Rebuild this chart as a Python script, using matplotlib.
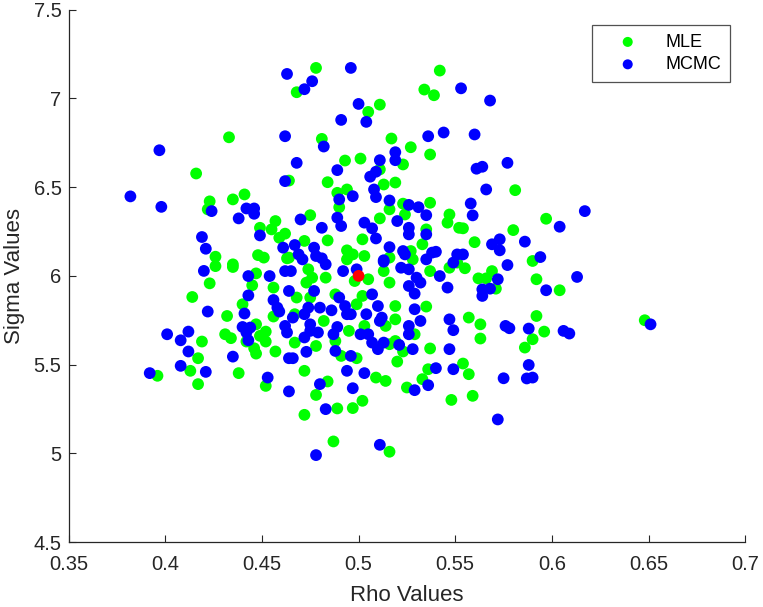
import numpy as np
import matplotlib
matplotlib.use("Agg")
import matplotlib.pyplot as plt

# (rho, sigma) estimates
mle_pts = np.array([
    (0.433, 6.781), (0.416, 6.577), (0.423, 6.420), (0.435, 6.431), (0.441, 6.459), (0.422, 6.375),
    (0.457, 6.309), (0.449, 6.271), (0.455, 6.262), (0.462, 6.238), (0.459, 6.215), (0.426, 6.108),
    (0.448, 6.117), (0.451, 6.103), (0.435, 6.065), (0.463, 6.099),
    (0.478, 7.172), (0.468, 7.035), (0.542, 7.157), (0.534, 7.050), (0.539, 7.018), (0.511, 6.965),
    (0.505, 6.924), (0.481, 6.772), (0.517, 6.774), (0.527, 6.725), (0.537, 6.684), (0.523, 6.628),
    (0.501, 6.661), (0.493, 6.650), (0.511, 6.600), (0.464, 6.537), (0.484, 6.528), (0.519, 6.526),
    (0.513, 6.515), (0.494, 6.487), (0.489, 6.468), (0.490, 6.387), (0.516, 6.375), (0.523, 6.407),
    (0.537, 6.412), (0.524, 6.346), (0.475, 6.342), (0.511, 6.324), (0.547, 6.346), (0.546, 6.300),
    (0.535, 6.262), (0.552, 6.271), (0.502, 6.206), (0.484, 6.200), (0.472, 6.197), (0.464, 6.103),
    (0.494, 6.144), (0.497, 6.121), (0.503, 6.112), (0.527, 6.140), (0.533, 6.178), (0.516, 6.103),
    (0.581, 6.483), (0.554, 6.268), (0.597, 6.322), (0.580, 6.258), (0.560, 6.190), (0.590, 6.084),
    (0.551, 6.075),
    (0.426, 6.055), (0.435, 6.050), (0.447, 6.014), (0.423, 5.958), (0.445, 5.947), (0.456, 5.934),
    (0.414, 5.881), (0.440, 5.840), (0.432, 5.774), (0.456, 5.771), (0.447, 5.727), (0.452, 5.686),
    (0.449, 5.662), (0.431, 5.671), (0.434, 5.649), (0.452, 5.630), (0.442, 5.630), (0.419, 5.630),
    (0.417, 5.536), (0.447, 5.562), (0.446, 5.592), (0.457, 5.574), (0.413, 5.465), (0.396, 5.437),
    (0.417, 5.390), (0.438, 5.452), (0.452, 5.380),
    (0.474, 6.037), (0.476, 5.990), (0.473, 5.962), (0.483, 5.990), (0.494, 6.093), (0.505, 5.981),
    (0.498, 5.971), (0.513, 6.027), (0.516, 5.962), (0.528, 6.093), (0.537, 6.027), (0.547, 6.046),
    (0.468, 5.878), (0.475, 5.878), (0.488, 5.896), (0.499, 5.840), (0.502, 5.887), (0.519, 5.830),
    (0.535, 5.827), (0.482, 5.746), (0.467, 5.784), (0.467, 5.624), (0.488, 5.633), (0.495, 5.690),
    (0.503, 5.718), (0.514, 5.718), (0.519, 5.755), (0.516, 5.615), (0.529, 5.671), (0.519, 5.633),
    (0.523, 5.574), (0.537, 5.591), (0.478, 5.605), (0.491, 5.549), (0.499, 5.536), (0.520, 5.517),
    (0.472, 5.465), (0.509, 5.427), (0.514, 5.408), (0.536, 5.474), (0.533, 5.418), (0.525, 5.371),
    (0.484, 5.405), (0.478, 5.329), (0.502, 5.296), (0.489, 5.253), (0.497, 5.255), (0.472, 5.217),
    (0.548, 5.301), (0.487, 5.067), (0.516, 5.009),
    (0.555, 6.043), (0.562, 5.986), (0.569, 6.027), (0.566, 5.986), (0.571, 5.928), (0.592, 5.981),
    (0.604, 5.919), (0.557, 5.765), (0.563, 5.727), (0.563, 5.647), (0.592, 5.774), (0.596, 5.686),
    (0.590, 5.643), (0.586, 5.596), (0.648, 5.750), (0.554, 5.506), (0.557, 5.446), (0.559, 5.324),
])

mcmc_pts = np.array([
    (0.463, 7.138), (0.462, 6.787), (0.397, 6.708), (0.462, 6.534), (0.382, 6.448), (0.398, 6.389),
    (0.424, 6.365), (0.442, 6.380), (0.446, 6.380), (0.446, 6.350), (0.438, 6.324), (0.449, 6.228),
    (0.419, 6.219), (0.421, 6.153), (0.461, 6.159),
    (0.496, 7.172), (0.476, 7.097), (0.472, 7.052), (0.500, 6.969), (0.491, 6.879), (0.504, 6.868),
    (0.482, 6.729), (0.536, 6.787), (0.544, 6.808), (0.519, 6.697), (0.519, 6.652), (0.511, 6.652),
    (0.489, 6.596), (0.509, 6.587), (0.506, 6.559), (0.468, 6.637), (0.508, 6.487), (0.509, 6.444),
    (0.497, 6.449), (0.490, 6.431), (0.516, 6.425), (0.526, 6.400), (0.531, 6.387), (0.535, 6.342),
    (0.470, 6.318), (0.489, 6.328), (0.491, 6.281), (0.503, 6.300), (0.507, 6.268), (0.520, 6.309),
    (0.526, 6.271), (0.526, 6.234), (0.535, 6.234), (0.481, 6.271), (0.509, 6.211), (0.467, 6.174),
    (0.477, 6.159), (0.469, 6.121), (0.478, 6.112), (0.481, 6.099), (0.471, 6.093), (0.516, 6.162),
    (0.523, 6.140), (0.524, 6.121), (0.538, 6.131), (0.540, 6.136), (0.513, 6.088), (0.551, 6.121),
    (0.553, 7.057), (0.568, 6.988), (0.560, 6.797), (0.561, 6.604), (0.564, 6.615), (0.577, 6.637),
    (0.566, 6.487), (0.558, 6.408), (0.559, 6.341), (0.617, 6.365), (0.604, 6.277), (0.569, 6.178),
    (0.573, 6.206), (0.573, 6.144), (0.586, 6.193), (0.554, 6.121), (0.594, 6.106), (0.577, 6.061),
    (0.420, 6.028), (0.443, 5.999), (0.454, 5.999), (0.462, 6.027), (0.464, 5.915), (0.443, 5.890),
    (0.456, 5.864), (0.458, 5.821), (0.459, 5.799), (0.422, 5.799), (0.441, 5.788), (0.440, 5.712),
    (0.444, 5.709), (0.442, 5.681), (0.443, 5.637), (0.462, 5.718), (0.463, 5.681), (0.401, 5.671),
    (0.412, 5.686), (0.408, 5.637), (0.412, 5.574), (0.435, 5.545), (0.464, 5.536), (0.408, 5.493),
    (0.421, 5.459), (0.392, 5.452), (0.453, 5.427), (0.464, 5.349),
    (0.465, 6.027), (0.483, 6.065), (0.492, 6.027), (0.499, 6.037), (0.513, 6.080), (0.522, 6.046),
    (0.526, 6.037), (0.535, 6.093), (0.530, 5.990), (0.532, 5.962), (0.526, 5.943), (0.542, 5.999),
    (0.549, 6.075), (0.546, 5.934), (0.477, 5.915), (0.529, 5.900), (0.474, 5.821), (0.472, 5.784),
    (0.480, 5.821), (0.486, 5.806), (0.490, 5.878), (0.493, 5.830), (0.494, 5.784), (0.496, 5.784),
    (0.507, 5.896), (0.510, 5.830), (0.529, 5.812), (0.504, 5.784), (0.466, 5.765), (0.475, 5.727),
    (0.479, 5.681), (0.475, 5.690), (0.472, 5.653), (0.489, 5.712), (0.487, 5.671), (0.501, 5.671),
    (0.505, 5.671), (0.511, 5.746), (0.512, 5.765), (0.507, 5.624), (0.510, 5.587), (0.513, 5.624),
    (0.526, 5.718), (0.526, 5.671), (0.532, 5.746), (0.521, 5.611), (0.528, 5.587), (0.547, 5.755),
    (0.549, 5.694), (0.547, 5.587), (0.473, 5.572), (0.466, 5.536), (0.488, 5.577), (0.496, 5.549),
    (0.494, 5.465), (0.503, 5.452), (0.540, 5.480), (0.549, 5.474), (0.536, 5.384), (0.529, 5.356),
    (0.480, 5.390), (0.497, 5.367), (0.483, 5.249), (0.511, 5.048), (0.478, 4.990),
    (0.572, 5.981), (0.564, 5.924), (0.568, 5.928), (0.564, 5.887), (0.597, 5.919), (0.613, 5.994),
    (0.576, 5.718), (0.578, 5.705), (0.588, 5.703), (0.606, 5.690), (0.609, 5.675), (0.651, 5.727),
    (0.588, 5.498), (0.587, 5.422), (0.590, 5.427), (0.575, 5.423), (0.572, 5.191),
])

mle_rho, mle_sigma = mle_pts[:, 0], mle_pts[:, 1]
mcmc_rho, mcmc_sigma = mcmc_pts[:, 0], mcmc_pts[:, 1]
true_rho, true_sigma = [0.5], [6.0]

xticks = [0.35, 0.4, 0.45, 0.5, 0.55, 0.6, 0.65, 0.7]
yticks = [4.5, 5, 5.5, 6, 6.5, 7, 7.5]

plt.rcParams['font.family'] = ['Liberation Sans', 'DejaVu Sans']
dark = (0.15, 0.15, 0.15)

fig = plt.figure(figsize=(7.63, 6.07), dpi=100)
ax = fig.add_axes([0.0898, 0.107, 0.887, 0.877])

ax.scatter(mle_rho, mle_sigma, s=72, c='#00ff00', edgecolors='none', label='MLE', zorder=2)
ax.scatter(mcmc_rho, mcmc_sigma, s=72, c='#0000ff', edgecolors='none', label='MCMC', zorder=3)
ax.scatter(true_rho, true_sigma, s=72, c='#ff0000', edgecolors='none', zorder=4)

ax.set_xlim(0.35, 0.7)
ax.set_ylim(4.5, 7.5)
ax.set_xticks(xticks)
ax.set_xticklabels([f'{t:g}' for t in xticks])
ax.set_yticks(yticks)
ax.set_yticklabels([f'{t:g}' for t in yticks])

for s in ['top', 'right']:
    ax.spines[s].set_visible(False)
for s in ['left', 'bottom']:
    ax.spines[s].set_color(dark)
    ax.spines[s].set_linewidth(0.9)
ax.tick_params(direction='in', length=5, width=0.8, colors=dark, labelsize=14.5)
ax.tick_params(axis='x', pad=9)
ax.tick_params(axis='y', pad=5)

ax.set_xlabel('Rho Values', fontsize=16, color=dark, labelpad=8)
ax.set_ylabel('Sigma Values', fontsize=16, color=dark, labelpad=6)

leg = ax.legend(loc='upper right', bbox_to_anchor=(0.978, 0.972), borderaxespad=0,
                fontsize=13, frameon=True, fancybox=False, edgecolor=dark, markerscale=0.85,
                handlelength=3.0, handletextpad=0.6, borderpad=0.5, labelspacing=0.3)
leg.get_frame().set_linewidth(0.9)

fig.savefig('out.png', dpi=100)
